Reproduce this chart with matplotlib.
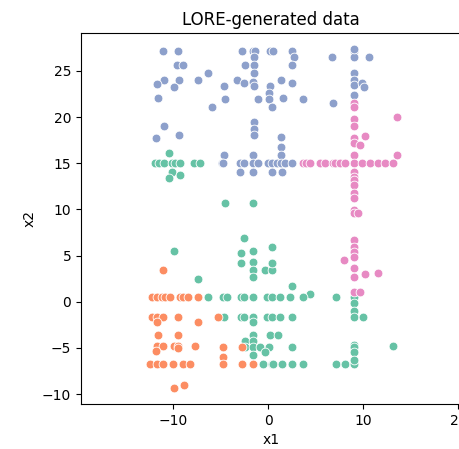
import numpy as np
import matplotlib
matplotlib.use("Agg")
import matplotlib.pyplot as plt

# -------------------- DATOS --------------------
# clase 0 (verde)
verde_x1 = [-10.5, -11.91, -11.56, -10.96, -10.15, -9.8, -9.34, -7.87, -7.16, -10.15, -9.34, -10.45,
            -4.56, -1.58, -2.53, -9.9, -2.87, -1.58, 0.42, -2.87, -1.58, 0.42, -1.58, -0.35, 0.42,
            -1.58, -7.43, 0.36, 2.46, 4.39, 7.13,
            -6.38, -4.74, -4.38, -2.9, -2.56, -1.58, -0.17, 0.36, 1.23, 2.28, 3.62,
            -4.63, -2.9, -2.56, -1.58, -0.17, 0.36, 1.23, 2.46, -1.58,
            -1.58, 0.18, 1.05, -2.45, -1.58,
            -2.45, -1.58, -0.87, 0.1, 2.46, -1.58, -0.35,
            -0.53, 0.36, 0.53, 1.41, 2.46, 3.68,
            7.13, 8.07, 9.05, 9.05, 9.05, 9.05, 9.05, 9.05, 9.05, 9.05, 9.05, 10.0, 13.1]
verde_x2 = [16.14, 14.99, 14.99, 14.99, 14.99, 14.99, 14.99, 14.99, 14.99, 14.08, 13.73, 13.43,
            10.73, 10.73, 6.93, 5.53, 5.31, 5.53, 5.96, 4.23, 4.33, 4.23, 3.43, 3.43, 3.43,
            2.71, 2.43, 4.16, 1.70, 0.83, 0.54,
            0.54, 0.54, 0.54, 0.54, 0.54, 0.54, 0.54, 0.54, 0.54, 0.54, 0.54,
            -1.69, -1.69, -1.69, -1.69, -1.69, -1.69, -1.69, -1.69, -2.17,
            -3.61, -3.61, -3.61, -4.23, -4.23,
            -4.94, -4.94, -4.94, -4.94, -4.94, -5.77, -5.42,
            -6.75, -6.75, -6.75, -6.75, -6.75, -6.75,
            -6.75, -6.75, -6.75, 0.54, -0.17, -1.01, -1.63, -4.69, -4.94, -5.42, -6.32, -1.63, -4.77]

# clase 1 (naranja)
naranja_x1 = [-11.05,
              -12.27, -11.75, -11.22, -10.87, -10.35, -9.3, -8.95, -8.42, -7.37,
              -12.27, -11.75, -11.05, -9.47, -5.26, -11.75, -7.43,
              -11.64, -9.47,
              -11.75, -11.05, -9.9, -9.47, -7.72, -11.82, -9.47,
              -4.74, -4.74, -2.8,
              -12.45, -11.75, -11.05, -10.0, -8.95, -8.24, -4.74, -2.8, -1.58,
              -9.9, -8.87]
naranja_x2 = [3.43,
              0.54, 0.54, 0.54, 0.54, 0.54, 0.54, 0.54, 0.54, 0.54,
              -1.69, -1.69, -1.69, -1.69, -1.69, -2.17, -2.23,
              -3.61, -3.61,
              -4.77, -4.77, -4.77, -4.77, -4.77, -5.31, -5.05,
              -4.88, -5.96, -4.94,
              -6.75, -6.75, -6.75, -6.75, -6.75, -6.75, -6.75, -6.75, -6.75,
              -9.32, -9.02]

# clase 2 (azul)
azul_x1 = [-11.05, -9.54, -9.64, -8.95, -10.95, -9.4, -11.75, -9.9, -7.37, -6.32, -11.6, -5.96,
           -4.56, -4.66, -10.95, -11.8, -9.4, -3.26, -2.53, -2.74, -1.58, -1.4, -1.5, -2.45,
           -1.5, -1.5, -1.58, -1.5, -1.12, 0.18, 0.53, 2.46, 2.74, 2.46, 1.31, 2.46, 0.18, 0.1,
           0.1, 1.52, 0.42, -1.5, -1.5, -1.5, 1.31, 1.31, -4.66, -1.58, 1.31,
           -4.9, -4.74, -2.98, -2.53, -1.58, -1.05, 0.0, 0.42, 0.88, 1.34, 1.76, 2.46,
           -2.98, -1.58, 0.42, 1.41,
           3.62, 6.7, 6.77, 9.05, 9.05, 9.05, 9.05, 9.05, 9.05, 9.05, 9.83, 10.07, 10.63]
azul_x2 = [27.19, 27.19, 25.61, 25.61, 24.02, 24.02, 23.55, 23.23, 24.02, 24.81, 22.10, 21.13,
           21.93, 23.40, 19.07, 17.77, 18.03, 24.02, 23.66, 27.19, 27.19, 27.19, 26.48, 25.61,
           25.61, 24.81, 23.84, 23.40, 21.99, 27.19, 27.19, 27.19, 26.54, 25.61, 24.02, 23.73, 23.40, 22.64,
           21.99, 22.10, 21.13, 19.44, 18.68, 18.03, 17.81, 16.79, 15.89, 15.89, 15.89,
           14.99, 14.99, 14.99, 14.99, 14.99, 14.99, 14.99, 14.99, 14.99, 14.99, 14.99, 14.99,
           14.08, 14.08, 14.08, 14.08,
           21.99, 26.54, 21.56, 27.19, 26.54, 24.81, 24.02, 23.48, 22.39, 27.4, 23.73, 23.29, 26.48]

# clase 3 (rosa)
rosa_x1 = [9.05] * 23 + [9.65, 10.18, 13.58, 13.58, 9.47, 8.0, 10.2, 11.58, 9.65,
                         3.62, 4.0, 4.39, 5.44, 6.0, 6.84, 7.02, 7.55, 8.07, 9.83, 10.7, 11.58, 12.28, 13.16]
rosa_x2 = [21.56, 21.06, 19.76, 19.04, 17.70, 17.16, 15.89, 14.99, 14.08, 13.54, 13.19, 12.64,
           11.81, 11.20, 9.93, 9.58, 6.68, 5.96, 5.42, 4.88, 3.62, 2.71, 1.08,
           17.0, 17.9, 19.98, 15.89, 9.58, 4.52, 2.97, 3.14, 1.08,
           14.99, 14.99, 14.99, 14.99, 14.99, 14.99, 14.99, 14.99, 14.99, 14.99, 14.99, 14.99, 14.99, 14.99]

colores = ["#66c2a5", "#fc8d62", "#8da0cb", "#e78ac3"]  # Set2

# -------------------- FIGURA --------------------
fig = plt.figure(figsize=(4.59, 4.49), dpi=100)
ax = fig.add_axes([81 / 459, 45 / 449, 380 / 459, 371 / 449])

grupos = [(verde_x1, verde_x2), (naranja_x1, naranja_x2), (azul_x1, azul_x2), (rosa_x1, rosa_x2)]
for (xs, ys), c in zip(grupos, colores):
    ax.scatter(xs, ys, s=40, color=c, edgecolor="white", linewidth=0.6, zorder=2)

ax.set_xlim(-19.72, 20.28)
ax.set_ylim(-11.08, 29.1)
ax.set_xticks([-10, 0, 10, 20])
ax.set_yticks([-10, -5, 0, 5, 10, 15, 20, 25])
ax.set_title("LORE-generated data")
ax.set_xlabel("x1")
ax.set_ylabel("x2")

fig.savefig("out.png", dpi=100)
